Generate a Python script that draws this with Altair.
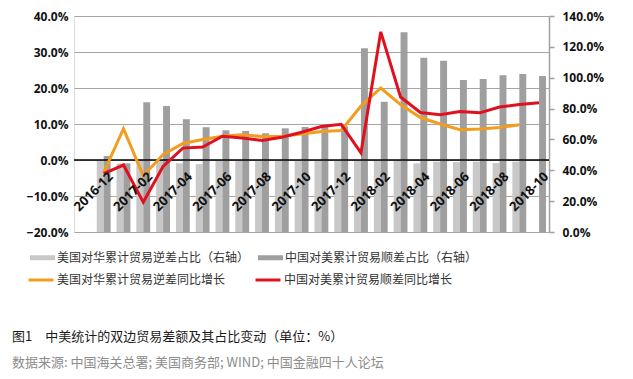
import altair as alt
import pandas as pd

months = ["2016-12", "2017-01", "2017-02", "2017-03", "2017-04", "2017-05",
          "2017-06", "2017-07", "2017-08", "2017-09", "2017-10", "2017-11",
          "2017-12", "2018-01", "2018-02", "2018-03", "2018-04", "2018-05",
          "2018-06", "2018-07", "2018-08", "2018-09", "2018-10"]
tick_labels = months[::2]

# right axis (%)
us_share = [46.0, 44.4, 46.0, 46.0, 44.5, 44.0, 46.0, 46.0, 46.0, 46.0, 46.0, 46.0,
            46.0, 46.0, 46.0, 46.0, 44.5, 45.6, 45.3, 45.6, 44.7, 45.6, None]
cn_share = [49.3, 44.5, 84.1, 81.7, 73.1, 67.9, 65.9, 65.5, 64.0, 67.2, 68.1, 68.1,
            68.4, 119.1, 84.5, 129.4, 113.0, 111.0, 98.5, 99.2, 101.6, 102.4, 101.1]
# left axis (%)
us_growth = [-3.5, 8.7, -4.4, 1.5, 4.6, 5.7, 6.6, 7.0, 6.5, 6.6, 7.2, 7.9,
             8.2, 15.0, 20.0, 15.4, 11.8, 10.0, 8.4, 8.6, 9.0, 9.8, None]
cn_growth = [-3.8, -1.4, -11.7, -1.8, 3.3, 3.6, 6.6, 6.1, 5.4, 6.3, 7.7, 9.3,
             9.9, 2.0, 35.6, 17.5, 13.2, 12.6, 13.5, 13.1, 14.7, 15.4, 15.9]

s_us_share = "美国对华累计贸易逆差占比（右轴）"
s_cn_share = "中国对美累计贸易顺差占比（右轴）"
s_us_growth = "美国对华累计贸易逆差同比增长"
s_cn_growth = "中国对美累计贸易顺差同比增长"

left_ticks = [-20, -10, 0, 10, 20, 30, 40]
right_ticks = [0, 20, 40, 60, 80, 100, 120, 140]
zero_line = [0]

caption = "图1　中美统计的双边贸易差额及其占比变动（单位：%）"
source = "数据来源: 中国海关总署; 美国商务部; WIND; 中国金融四十人论坛"

n = len(months)
bars_df = pd.DataFrame({
    "month": months * 2,
    "series": [s_us_share] * n + [s_cn_share] * n,
    "value": us_share + cn_share,
})
lines_df = pd.DataFrame({
    "month": months * 2,
    "series": [s_us_growth] * n + [s_cn_growth] * n,
    "value": us_growth + cn_growth,
})
zero_df = pd.DataFrame({"z": zero_line})
cap_df = pd.DataFrame({"t": [caption]})
src_df = pd.DataFrame({"t": [source]})

AXF = "Open Sans"
CJK = "Noto Sans CJK SC"

x_scale = alt.Scale(domain=months, paddingInner=0.3, paddingOuter=0.65, align=0.8846)
x_axis = alt.Axis(values=tick_labels, labelAngle=-45, labelAlign="right",
                  labelBaseline="top", offset=-62, labelPadding=0, labelOffset=3,
                  ticks=False, tickSize=0, domain=False, grid=False, zindex=2,
                  labelFont=AXF, labelFontSize=13, labelFontWeight="bold",
                  labelColor="#111111", labelOverlap=False)
x_enc = alt.X("month:N", scale=x_scale, sort=months, title=None, axis=x_axis)

left_scale = alt.Scale(domain=[-20, 40], nice=False)
right_scale = alt.Scale(domain=[0, 140], nice=False)
left_axis = alt.Axis(orient="left", values=left_ticks,
                     labelExpr="format(datum.value, '.1f') + '%'",
                     grid=True, gridColor="#a6a6a6", gridWidth=1,
                     domain=False, ticks=False, tickSize=0, labelPadding=6,
                     labelFont=AXF, labelFontSize=12, labelFontWeight="bold",
                     labelColor="#111111")

bars = alt.Chart(bars_df).mark_bar().encode(
    x=x_enc,
    xOffset=alt.XOffset("series:N", sort=[s_us_share, s_cn_share],
                        scale=alt.Scale(domain=[s_us_share, s_cn_share],
                                        paddingInner=0, paddingOuter=0)),
    y=alt.Y("value:Q", scale=right_scale, title=None,
            axis=alt.Axis(orient="right", values=right_ticks,
                          labelExpr="format(datum.value, '.1f') + '%'",
                          grid=False, domain=True, domainColor="#a0a0a0",
                          domainWidth=1.5, ticks=True, tickColor="#a0a0a0",
                          tickSize=5, tickWidth=1.5, labelPadding=8,
                          labelFont=AXF, labelFontSize=12, labelFontWeight="bold",
                          labelColor="#111111")),
    fill=alt.Fill("series:N", sort=[s_us_share, s_cn_share],
                  scale=alt.Scale(domain=[s_us_share, s_cn_share],
                                  range=["#c8c8c8", "#9f9f9f"]),
                  legend=alt.Legend(title=None, orient="none", legendX=-44, legendY=229,
                                    direction="horizontal", padding=0,
                                    symbolType="M-1,-0.2H1V0.2H-1Z", symbolSize=625,
                                    symbolStrokeWidth=0, labelOffset=2,
                                    columnPadding=8, labelLimit=400,
                                    labelFont=CJK, labelFontSize=12,
                                    labelColor="#333333")),
)

lines = alt.Chart(lines_df).mark_line(strokeWidth=3, strokeJoin="miter").encode(
    x=x_enc,
    y=alt.Y("value:Q", scale=left_scale, title=None, axis=left_axis),
    stroke=alt.Stroke("series:N", sort=[s_us_growth, s_cn_growth],
                      scale=alt.Scale(domain=[s_us_growth, s_cn_growth],
                                      range=["#f39c1e", "#e0101e"]),
                      legend=alt.Legend(title=None, orient="none", legendX=-47, legendY=250,
                                        direction="horizontal", padding=0,
                                        symbolType="stroke", symbolSize=625,
                                        symbolStrokeWidth=3, labelOffset=2,
                                        columnPadding=23, labelLimit=400,
                                        labelFont=CJK, labelFontSize=12,
                                        labelColor="#333333")),
    order=alt.Order("month:N"),
)

zero = alt.Chart(zero_df).mark_rule(color="#000000", strokeWidth=1.5).encode(
    y=alt.Y("z:Q", scale=left_scale, title=None, axis=left_axis)
)

cap = alt.Chart(cap_df).mark_text(align="left", baseline="middle", font=CJK,
                                  fontSize=13, color="#1a1a1a").encode(
    x=alt.value(-62), y=alt.value(321), text="t:N")
src = alt.Chart(src_df).mark_text(align="left", baseline="middle", font=CJK,
                                  fontSize=13, color="#8c8c8c").encode(
    x=alt.value(-62), y=alt.value(347), text="t:N")

inner = alt.layer(zero, lines, cap, src)

chart = alt.layer(bars, inner).resolve_scale(
    y="independent"
).properties(
    width=475, height=216,
    padding={"left": 66, "top": 8, "right": 76, "bottom": 139},
    autosize=alt.AutoSizeParams(type="none"),
).configure_view(stroke=None).configure(background="white")

chart.save("out.html", embed_options={"renderer": "svg", "actions": False})
